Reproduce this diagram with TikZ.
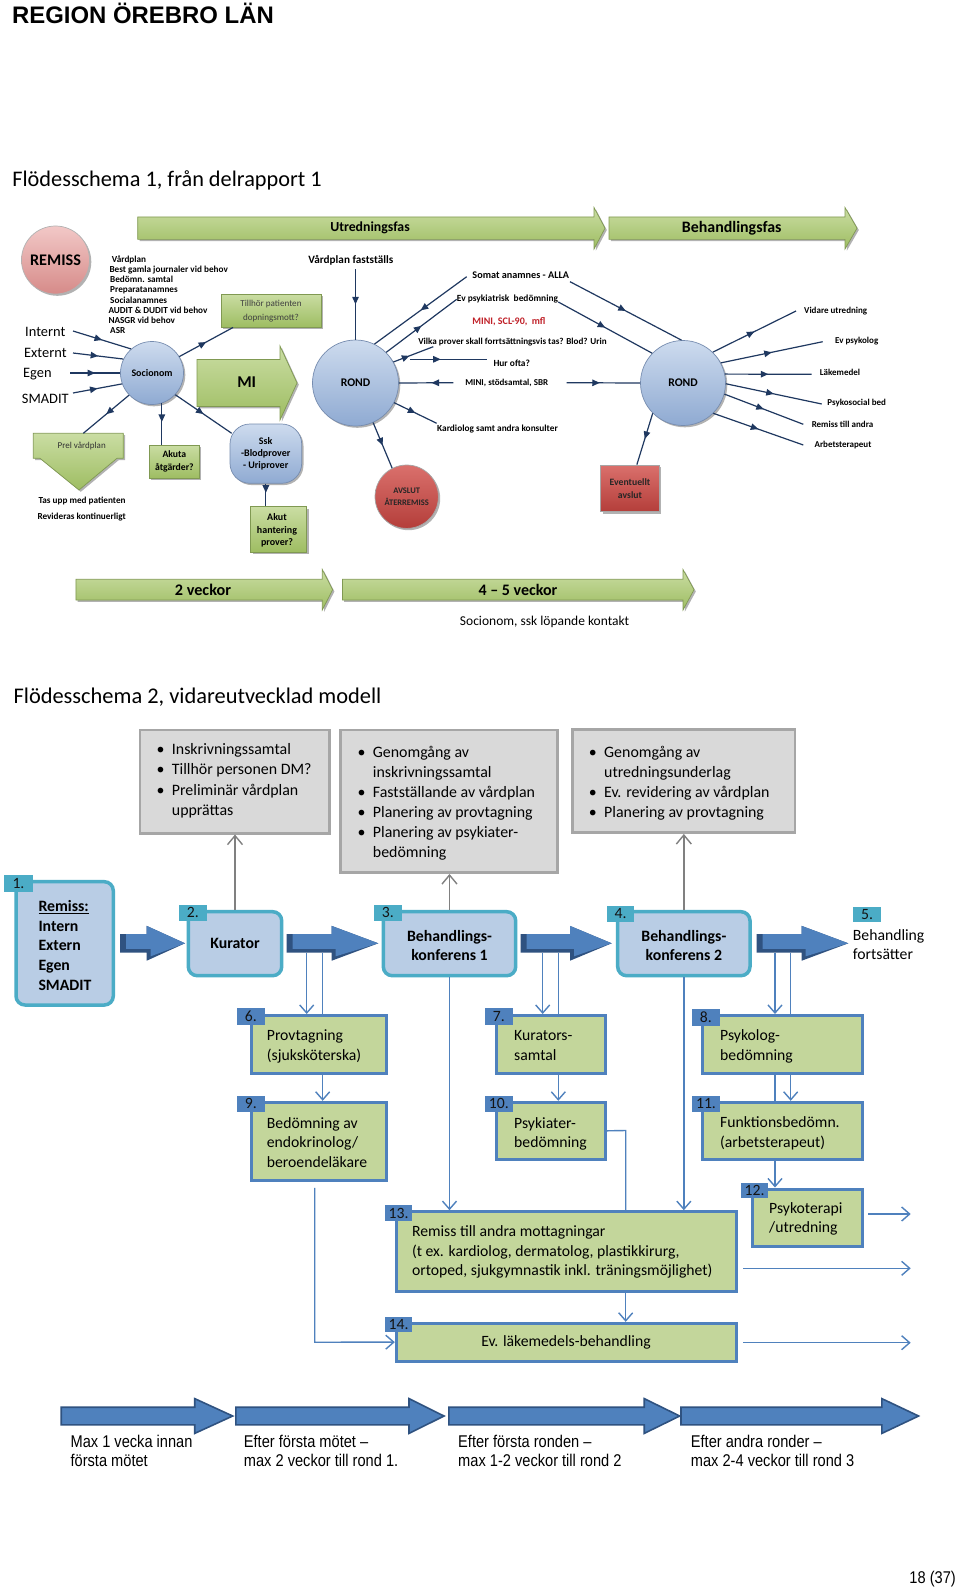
\documentclass[tikz,border=0pt]{standalone}
\usepackage{fontspec}
\setmainfont{Carlito}
\newfontfamily\arialfont{Liberation Sans}
\newfontfamily\narrowfont[FakeStretch=0.86]{Liberation Sans}
\usetikzlibrary{arrows.meta,decorations.markings,shadows,fit,calc}

\definecolor{grnA}{RGB}{202,221,163}
\definecolor{grnB}{RGB}{158,189,98}
\definecolor{grnE}{RGB}{128,153,82}
\definecolor{bluA}{RGB}{205,219,238}
\definecolor{bluB}{RGB}{143,170,210}
\definecolor{bluE}{RGB}{118,140,175}
\definecolor{pinkA}{RGB}{242,200,199}
\definecolor{pinkB}{RGB}{214,139,137}
\definecolor{redA}{RGB}{218,112,108}
\definecolor{redB}{RGB}{180,62,58}
\definecolor{spk}{RGB}{31,56,96}
\definecolor{redtxt}{RGB}{192,32,40}
\definecolor{grayF}{RGB}{217,217,217}
\definecolor{grayE}{RGB}{166,166,166}
\definecolor{grayL}{RGB}{128,128,128}
\definecolor{mainF}{RGB}{185,205,229}
\definecolor{mainE}{RGB}{75,172,198}
\definecolor{stepF}{RGB}{195,214,155}
\definecolor{stepE}{RGB}{79,129,189}
\definecolor{arrF}{RGB}{79,129,189}
\definecolor{arrD}{RGB}{47,82,128}
\definecolor{txtD}{RGB}{20,20,20}

\newcommand\myfs[2]{\fontsize{#1}{#2}\selectfont}
\newcommand\mylines[1]{\begin{tabular}[t]{@{}l@{}}#1\end{tabular}}
\newcommand\bul{\makebox[15.3pt][l]{\textbullet}}
\newcommand\bulind{\hspace*{15.3pt}}
% section-2 block arrow: body start, head start, tip, centre y
\newcommand\bluearrow[4]{%
 \fill[arrD] (#1,#4-9.3) -- (#2,#4-9.3) -- (#2,#4-17.4) -- (#3,#4) -- (#2,#4+17.4) -- (#2,#4+9.3) -- (#1,#4+9.3) -- cycle;
 \fill[arrF] (#1+6,#4-9.3) -- (#2,#4-9.3) -- (#2,#4-17.4) -- (#3,#4) -- (#2+4,#4+13) -- (#2+4,#4+5.5) -- (#1+6,#4+5.5) -- cycle;}
% bottom timeline arrow
\newcommand\bigarrow[3]{%
 \draw[fill=arrF,draw=arrD,line width=1.6pt,line join=miter] (#1,1407.2) -- (#2,1407.2) -- (#2,1398.6) -- (#3,1416) -- (#2,1433.4) -- (#2,1424.8) -- (#1,1424.8) -- cycle;}

\tikzset{
 txt/.style={inner sep=0pt},
 sh/.style={drop shadow={shadow xshift=1.8pt,shadow yshift=-1.8pt,opacity=0.3,fill=black}},
 grnshape/.style={top color=grnA,bottom color=grnB,draw=grnE,line width=0.7pt},
 grnbox/.style={rectangle,inner sep=0pt,grnshape,sh},
 bcirc/.style={circle,inner sep=0pt,top color=bluA,bottom color=bluB,draw=bluE,line width=0.7pt,sh},
 spoke/.style={draw=spk,color=spk,line width=1.2pt},
 midarr/.style={postaction={decorate},decoration={markings,mark=at position #1 with {\arrow{Triangle[length=7.5pt,width=6.5pt]}}}},
 midarr/.default=0.5,
 sb/.style={txt,font=\bfseries\myfs{9.2}{10.2}},
 lb/.style={txt,font=\bfseries\myfs{9}{11}},
 graybox/.style={rectangle,inner sep=0pt,fill=grayF,draw=grayE,line width=2.5pt},
 mainbox/.style={rectangle,rounded corners=9pt,inner sep=0pt,fill=mainF,draw=mainE,line width=3.5pt},
 maintab/.style={rectangle,inner sep=0pt,fill=mainE},
 stepbox/.style={rectangle,inner sep=0pt,fill=stepF,draw=stepE,line width=3pt},
 steptab/.style={rectangle,inner sep=0pt,fill=stepE},
 tabnum/.style={txt,font=\myfs{15.7}{19},text=txtD},
 conn/.style={draw=stepE,line width=1.4pt},
 connar/.style={conn,-{Straight Barb[length=8pt,width=14pt]}},
 gconn/.style={draw=grayL,line width=1.4pt,-{Straight Barb[length=9pt,width=15pt]}},
 bodytxt/.style={txt,anchor=base west,font=\myfs{15.7}{19.6}},
 boldtxt/.style={txt,font=\bfseries\myfs{15.8}{19.2}},
 bullettxt/.style={txt,anchor=base west,font=\myfs{15.9}{20.1}},
 narrowtxt/.style={txt,anchor=base west,font=\narrowfont\myfs{17}{19}},
}

\begin{document}
\begin{tikzpicture}[x=1pt,y=-1pt]
\fill[white] (0,0) rectangle (960,1589);
\useasboundingbox (0,0) rectangle (960,1589);

% ---------- headings ----------
\node[txt,anchor=base west,font=\arialfont\bfseries\myfs{23.9}{28}] (hdr) at (12,23.8) {REGION ÖREBRO LÄN};
\node[txt,anchor=base west,font=\myfs{22.3}{26}] (fs1) at (12.2,186.4) {Flödesschema 1, från delrapport 1};

% ---------- phase arrows ----------
\draw[grnshape,sh] (137.7,217)--(594,217)--(594,207.5)--(605,228.2)--(594,249)--(594,239.4)--(137.7,239.4)--cycle;
\node[txt,font=\bfseries\myfs{13.8}{16}] (utr) at (370,228.3) {Utredningsfas};
\draw[grnshape,sh] (609,217)--(845,217)--(845,207.5)--(857,228.2)--(845,249)--(845,239.4)--(609,239.4)--cycle;
\node[txt,font=\bfseries\myfs{15.9}{18}] (beh) at (731.7,228.3) {Behandlingsfas};

% ---------- left part ----------
\node[circle,inner sep=0pt,minimum size=68pt,top color=pinkA,bottom color=pinkB,draw=gray!60,line width=0.7pt,sh,font=\bfseries\myfs{16.2}{18}] (remiss) at (55.5,260) {REMISS};

\node[sb,anchor=base west] (vplist) at (108.3,262.2) {\mylines{\hspace*{3.4pt}Vårdplan\\\hspace*{1pt}Best gamla journaler vid behov\\\hspace*{1.7pt}Bedömn. samtal\\\hspace*{1.7pt}Preparatanamnes\\\hspace*{1.7pt}Socialanamnes\\AUDIT \& DUDIT vid behov\\NASGR vid behov\\\hspace*{1.7pt}ASR}};

\node[txt,anchor=base west,font=\myfs{14.4}{17}] (lint) at (25,336) {Internt};
\node[txt,anchor=base west,font=\myfs{14.4}{17}] (lext) at (24,357) {Externt};
\node[txt,anchor=base west,font=\myfs{14.4}{17}] (legen) at (23,377.6) {Egen};
\node[txt,anchor=base west,font=\myfs{14.4}{17}] (lsma) at (21.7,403.3) {SMADIT};

\node[bcirc,minimum size=63pt,font=\bfseries\myfs{10}{12}] (soc) at (152,373) {Socionom};

\coordinate (cint) at (73,331);
\coordinate (cext) at (73,353);
\coordinate (cegen) at (70,373);
\coordinate (csma) at (73,393);
\draw[spoke,midarr] (cint) -- (soc.131);
\draw[spoke,midarr] (cext) -- (soc.154);
\draw[spoke,midarr] (cegen) -- (soc.180);
\draw[spoke,midarr] (csma) -- (soc.200);

\node[grnbox,fit={(221,294)(321,327)}] (til) {};
\node[txt,align=center,font=\myfs{9.1}{13.4},text=black!75] (tilt) at (271,311) {Tillhör patienten\\dopningsmott?};
\coordinate (ctil) at (233,327.5);
\draw[spoke,midarr] (soc.31) -- (ctil);

\draw[grnshape,sh] (197,359.5)--(280,359.5)--(280,346)--(297,383)--(280,420)--(280,406.5)--(197,406.5)--cycle;
\node[txt,font=\bfseries\myfs{16.5}{18}] (mi) at (246.7,382.5) {MI};

\draw[grnshape,sh] (33.3,433.3)--(123.3,433.3)--(123.3,458.3)--(117,458.3)--(79,490)--(40,458.3)--(33.3,458.3)--cycle;
\node[txt,font=\myfs{9}{11},text=black!80] (prelt) at (81.7,445.7) {Prel vårdplan};
\coordinate (cprel) at (83.3,433.3);
\draw[spoke,midarr] (soc.224) -- (cprel);

\node[sb,anchor=base west] (tas) at (38.3,503.8) {Tas upp med patienten};
\node[sb,anchor=base west] (rev) at (37.3,519.5) {Revideras kontinuerligt};

\node[grnbox,fit={(149.3,445)(199.5,478.3)}] (aku) {};
\node[txt,align=center,font=\bfseries\myfs{9.7}{13.3}] (akut) at (aku) {Akuta\\åtgärder?};
\draw[spoke,midarr=0.45] (soc.288) -- (soc.288 |- aku.north);

\node[rectangle,rounded corners=20pt,inner sep=0pt,top color=bluA,bottom color=bluB,draw=bluE,line width=0.7pt,sh,fit={(230,424)(301.7,483.3)}] (ssk) {};
\node[txt,align=center,font=\bfseries\myfs{10}{12}] (sskt) at (265.7,453.5) {Ssk\\-Blodprover\\- Uriprover};
\coordinate (cssk) at (231.7,433.3);
\draw[spoke,midarr] (soc.317) -- (cssk);

\node[grnbox,fit={(250.7,506.7)(306.7,552)}] (akh) {};
\node[txt,align=center,font=\bfseries\myfs{10}{12.5}] (akht) at (277,530.5) {Akut\\hantering\\prover?};
\draw[spoke,midarr=0.4] (ssk.south) -- (ssk.south |- akh.north);

% ---------- ROND 1 ----------
\node[txt,font=\bfseries\myfs{11.2}{13}] (vpf) at (350.8,260) {Vårdplan fastställs};
\node[bcirc,minimum size=86pt,font=\bfseries\myfs{11.7}{14}] (rond1) at (355.5,383) {ROND};
\coordinate (cvpf) at (355.5,269);
\draw[spoke,midarr] (cvpf) -- (rond1.north);

\node[circle,inner sep=0pt,minimum size=63.4pt,top color=redA,bottom color=redB,draw=gray!70,line width=0.7pt,sh,align=center,font=\bfseries\myfs{8.5}{12},text=black!85] (avs) at (406.7,496.7) {AVSLUT\\ÅTERREMISS};

\node[txt,font=\bfseries\myfs{10.2}{12}] (somat) at (520.8,275) {Somat anamnes - ALLA};
\node[txt,font=\bfseries\myfs{9.4}{12}] (evps) at (507.5,299.3) {Ev psykiatrisk\ \ bedömning};
\node[txt,font=\bfseries\myfs{10}{12},text=redtxt] (mini1) at (509,321.7) {MINI, SCL-90,\ \ mfl};
\node[txt,font=\bfseries\myfs{9.1}{12}] (vilka) at (512.5,341.7) {Vilka prover skall forrtsättningsvis tas? Blod? Urin};
\node[txt,font=\bfseries\myfs{9.4}{12}] (hur) at (511.7,363.3) {Hur ofta?};
\node[txt,font=\bfseries\myfs{9}{12}] (mini2) at (506.7,383.3) {MINI, stödsamtal, SBR};
\node[txt,font=\bfseries\myfs{9.3}{12}] (kard) at (497.5,429.3) {Kardiolog samt andra konsulter};

% ---------- ROND 2 ----------
\node[bcirc,minimum size=85pt,font=\bfseries\myfs{11.7}{14}] (rond2) at (683,383) {ROND};
\node[rectangle,inner sep=0pt,top color=redA,bottom color=redB,draw=gray!70,line width=0.7pt,sh,fit={(600.7,465)(659,511.7)}] (evt) {};
\node[txt,align=center,font=\bfseries\myfs{9.7}{12.7},text=black!85] (evtt) at (630,488.5) {Eventuellt\\avslut};

\coordinate (csomL) at (466.7,276.7);
\coordinate (csomR) at (570,281.7);
\coordinate (cevL) at (456.7,299.3);
\coordinate (cevR) at (558.3,302);
\coordinate (cvil) at (433.3,346.7);
\coordinate (churA) at (410,359.3);
\coordinate (churB) at (486.7,359.3);
\coordinate (cminL) at (453.3,382.7);
\coordinate (cminR) at (566.7,382.7);
\coordinate (ckard) at (436.7,423.3);
\draw[spoke,midarr] (csomL) -- (rond1.64);
\draw[spoke,midarr] (csomR) -- (rond2.92);
\draw[spoke,midarr] (rond1.45) -- (cevL);
\draw[spoke,midarr] (cevR) -- (rond2.136);
\draw[spoke,midarr=0.4] (rond1.29) -- (cvil);
\draw[spoke,midarr=0.4] (churA) -- (churB);
\draw[spoke,midarr=0.4] (cminL) -- (rond1.east);
\draw[spoke,midarr=0.45] (cminR) -- (rond2.west);
\draw[spoke,midarr] (rond1.-27) -- (ckard);
\draw[spoke,midarr] (rond1.-66) -- (avs.117);
\draw[spoke,midarr] (rond2.225) -- ($(evt.north)+(7,0)$);

\node[lb] (vid) at (835.7,310.7) {Vidare utredning};
\node[lb] (evpk) at (856.7,341) {Ev psykolog};
\node[lb] (lak) at (840,372.3) {Läkemedel};
\node[lb] (psy) at (856.7,403.3) {Psykosocial bed};
\node[lb] (rem) at (842.5,424.3) {Remiss till andra};
\node[lb] (arb) at (843,445) {Arbetsterapeut};
\coordinate (evid) at (796,311);
\coordinate (eevp) at (822.7,341.7);
\coordinate (elak) at (811.7,374.3);
\coordinate (epsy) at (821.7,404);
\coordinate (erem) at (803.3,424.3);
\coordinate (earb) at (803.3,445);
\draw[spoke,midarr] (rond2.46) -- (evid);
\draw[spoke,midarr] (rond2.28) -- (eevp);
\draw[spoke,midarr] (rond2.12) -- (elak);
\draw[spoke,midarr] (rond2.-1) -- (epsy);
\draw[spoke,midarr] (rond2.-15) -- (erem);
\draw[spoke,midarr] (rond2.-45) -- (earb);

% ---------- week arrows ----------
\draw[grnshape,sh] (75.9,579.3)--(322.3,579.3)--(322.3,569.5)--(332.6,589.7)--(322.3,610)--(322.3,600)--(75.9,600)--cycle;
\node[txt,font=\bfseries\myfs{16.2}{18}] (v2) at (203,589.5) {2 veckor};
\draw[grnshape,sh] (342.4,579.3)--(683,579.3)--(683,569.5)--(694,589.7)--(683,610)--(683,600)--(342.4,600)--cycle;
\node[txt,font=\bfseries\myfs{16}{18}] (v45) at (518,589.5) {4 – 5 veckor};
\node[txt,font=\myfs{13.5}{16}] (soc2) at (544.6,621.7) {Socionom, ssk löpande kontakt};

% ---------- Flödesschema 2 ----------
\node[txt,anchor=base west,font=\myfs{22.4}{26}] (fs2) at (13.4,703.4) {Flödesschema 2, vidareutvecklad modell};

\node[graybox,fit={(140,730)(329.3,833.3)}] (ga) {};
\node[graybox,fit={(340.7,730)(557.7,872.7)}] (gb) {};
\node[graybox,fit={(572.7,729.3)(795,832.7)}] (gc) {};
\node[bullettxt] (gat) at (156.4,754.8) {\mylines{\bul Inskrivningssamtal\\\bul Tillhör personen DM?\\\bul Preliminär vårdplan\\\bulind upprättas}};
\node[bullettxt] (gbt) at (357.4,757.1) {\mylines{\bul Genomgång av\\\bulind inskrivningssamtal\\\bul Fastställande av vårdplan\\\bul Planering av provtagning\\\bul Planering av psykiater-\\\bulind bedömning}};
\node[bullettxt] (gct) at (588.7,757.1) {\mylines{\bul Genomgång av\\\bulind utredningsunderlag\\\bul Ev. revidering av vårdplan\\\bul Planering av provtagning}};

% main boxes
\node[mainbox,fit={(16,881.7)(113.3,1005)}] (m1) {};
\node[maintab,fit={(4.3,875)(32.7,891.7)}] (t1) {};
\node[tabnum] (t1n) at (t1) {1.};
\node[txt,anchor=base west,font=\bfseries\myfs{15.8}{19.65}] (m1t) at (38.3,911.4) {\mylines{\underline{Remiss:}\\Intern\\Extern\\Egen\\SMADIT}};

\node[mainbox,fit={(188.3,911.7)(281.7,975.7)}] (m2) {};
\node[maintab,fit={(179,905)(206.7,920.7)}] (t2) {};
\node[tabnum] (t2n) at (t2) {2.};
\node[boldtxt] (m2t) at (m2) {Kurator};

\node[mainbox,fit={(383.3,911.7)(515.7,975.7)}] (m3) {};
\node[maintab,fit={(374,905)(401.7,920.7)}] (t3) {};
\node[tabnum] (t3n) at (t3) {3.};
\node[boldtxt,align=center] (m3t) at ($(m3)+(0,1.8)$) {Behandlings-\\konferens 1};

\node[mainbox,fit={(617.7,911.7)(750,975.7)}] (m4) {};
\node[maintab,fit={(606.7,905.7)(634.3,921.7)}] (t4) {};
\node[tabnum] (t4n) at (t4) {4.};
\node[boldtxt,align=center] (m4t) at ($(m4)+(0,1.8)$) {Behandlings-\\konferens 2};

\node[maintab,fit={(853.3,906.7)(881,922.3)}] (t5) {};
\node[tabnum] (t5n) at (t5) {5.};
\node[bodytxt,font=\myfs{15.7}{19}] (m5t) at (852.7,940.7) {\mylines{Behandling\\fortsätter}};

\bluearrow{120}{146.7}{185}{943.3}
\bluearrow{286.7}{331.7}{378.3}{943.3}
\bluearrow{520.7}{570}{611.7}{943.3}
\bluearrow{756.7}{801.7}{848.3}{943.3}

\draw[gconn] (m2.north) -- (m2.north |- ga.south);
\draw[gconn] (m3.north) -- (m3.north |- gb.south);
\draw[gconn] (m4.north) -- (m4.north |- gc.south);

% step boxes
\node[stepbox,fit={(251.7,1015.5)(386.7,1073)}] (s6) {};
\node[steptab,fit={(236.7,1008.3)(265,1025)}] (u6) {};
\node[tabnum] (u6n) at (u6) {6.};
\node[bodytxt] (s6t) at (266.7,1040.7) {\mylines{Provtagning\\(sjuksköterska)}};

\node[stepbox,fit={(496,1015.5)(605.7,1073)}] (s7) {};
\node[steptab,fit={(485,1008.3)(512.7,1025)}] (u7) {};
\node[tabnum] (u7n) at (u7) {7.};
\node[bodytxt] (s7t) at (514,1040.7) {\mylines{Kurators-\\samtal}};

\node[stepbox,fit={(702.7,1015.5)(862.7,1073)}] (s8) {};
\node[steptab,fit={(691.7,1009.3)(720,1025.7)}] (u8) {};
\node[tabnum] (u8n) at (u8) {8.};
\node[bodytxt] (s8t) at (720,1040.7) {\mylines{Psykolog-\\bedömning}};

\node[stepbox,fit={(251.7,1102.3)(386.7,1180.4)}] (s9) {};
\node[steptab,fit={(236.7,1096)(265,1111.7)}] (u9) {};
\node[tabnum] (u9n) at (u9) {9.};
\node[bodytxt] (s9t) at (266.7,1128) {\mylines{Bedömning av\\endokrinolog/\\beroendeläkare}};

\node[stepbox,fit={(496,1102.3)(605.7,1159.3)}] (s10) {};
\node[steptab,fit={(485,1096)(512.7,1111.7)}] (u10) {};
\node[tabnum] (u10n) at (u10) {10.};
\node[bodytxt] (s10t) at (514,1128) {\mylines{Psykiater-\\bedömning}};

\node[stepbox,fit={(702.7,1102.3)(862.7,1159.3)}] (s11) {};
\node[steptab,fit={(692,1095.5)(720,1111.7)}] (u11) {};
\node[tabnum] (u11n) at (u11) {11.};
\node[bodytxt] (s11t) at (720,1127.4) {\mylines{Funktionsbedömn.\\(arbetsterapeut)}};

\node[stepbox,fit={(752.3,1189)(862.3,1246)}] (s12) {};
\node[steptab,fit={(741,1183.3)(768.3,1198.3)}] (u12) {};
\node[tabnum] (u12n) at (u12) {12.};
\node[bodytxt] (s12t) at (769,1213) {\mylines{Psykoterapi\\/utredning}};

\node[stepbox,fit={(396.3,1211.7)(736.5,1291.7)}] (s13) {};
\node[steptab,fit={(385.3,1205)(411.8,1221)}] (u13) {};
\node[tabnum] (u13n) at (u13) {13.};
\node[bodytxt] (s13t) at (411.8,1236.4) {\mylines{Remiss till andra mottagningar\\(t ex. kardiolog, dermatolog, plastikkirurg,\\ortoped, sjukgymnastik inkl. träningsmöjlighet)}};

\node[stepbox,fit={(396.3,1323.3)(736.5,1361)}] (s14) {};
\node[steptab,fit={(385.3,1316.7)(411.8,1332)}] (u14) {};
\node[tabnum] (u14n) at (u14) {14.};
\node[txt,font=\myfs{15.7}{19}] (s14t) at (566,1342) {Ev. läkemedels-behandling};

% connectors
\coordinate (a23L) at (306.7,952.6);
\coordinate (a23R) at (322.7,952.6);
\coordinate (a34L) at (542.7,952.6);
\coordinate (a34R) at (558.3,952.6);
\coordinate (a45L) at (775,952.6);
\coordinate (a45R) at (790.7,952.6);
\draw[connar] (a23L) -- (a23L |- s6.north);
\draw[conn] (a23R) -- (a23R |- s6.north);
\draw[connar] (a34L) -- (a34L |- s7.north);
\draw[conn] (a34R) -- (a34R |- s7.north);
\draw[connar] (a45L) -- (a45L |- s8.north);
\draw[conn] (a45R) -- (a45R |- s8.north);

\draw[connar] (s6.south -| a23R) -- (s9.north -| a23R);
\draw[connar] (s7.south -| a34R) -- (s10.north -| a34R);
\draw[conn] (s8.south -| a45L) -- (s11.north -| a45L);
\draw[connar] (s8.south -| a45R) -- (s11.north -| a45R);
\draw[connar] (s11.south -| a45L) -- (s12.north -| a45L);

\draw[connar] (m3.south) -- (m3.south |- s13.north);
\draw[connar] (m4.south) -- (m4.south |- s13.north);
\coordinate (k10) at (625.7,1130.5);
\draw[conn] (s10.east) -- (k10) -- (k10 |- s13.north);
\draw[connar] (s13.south -| k10) -- (s14.north -| k10);
\coordinate (k9) at (314.7,1342.2);
\draw[connar] ($(s9.south -| k9)+(0,6)$) -- (k9) -- (s14.west);

\coordinate (e12) at (910.7,1214);
\coordinate (e13) at (910.7,1268.3);
\coordinate (e14) at (910.7,1342.7);
\draw[connar] ($(s12.east |- e12)+(4.4,0)$) -- (e12);
\draw[connar] ($(s13.east |- e13)+(5,0)$) -- (e13);
\draw[connar] ($(s14.east |- e14)+(5,0)$) -- (e14);

% ---------- bottom timeline ----------
\bigarrow{61.2}{194.7}{232.7}
\bigarrow{235.8}{409}{444}
\bigarrow{448.9}{644.2}{679.7}
\bigarrow{681}{881.8}{918.6}
\node[narrowtxt] (b1) at (70.4,1447.3) {\mylines{Max 1 vecka innan\\första mötet}};
\node[narrowtxt] (b2) at (243.7,1447.3) {\mylines{Efter första mötet –\\max 2 veckor till rond 1.}};
\node[narrowtxt] (b3) at (458,1447.3) {\mylines{Efter första ronden –\\max 1-2 veckor till rond 2}};
\node[narrowtxt] (b4) at (690.7,1447.3) {\mylines{Efter andra ronder –\\max 2-4 veckor till rond 3}};
\node[txt,anchor=base east,font=\narrowfont\myfs{17}{19}] (pg) at (956,1583.6) {18 (37)};
\end{tikzpicture}
\end{document}
